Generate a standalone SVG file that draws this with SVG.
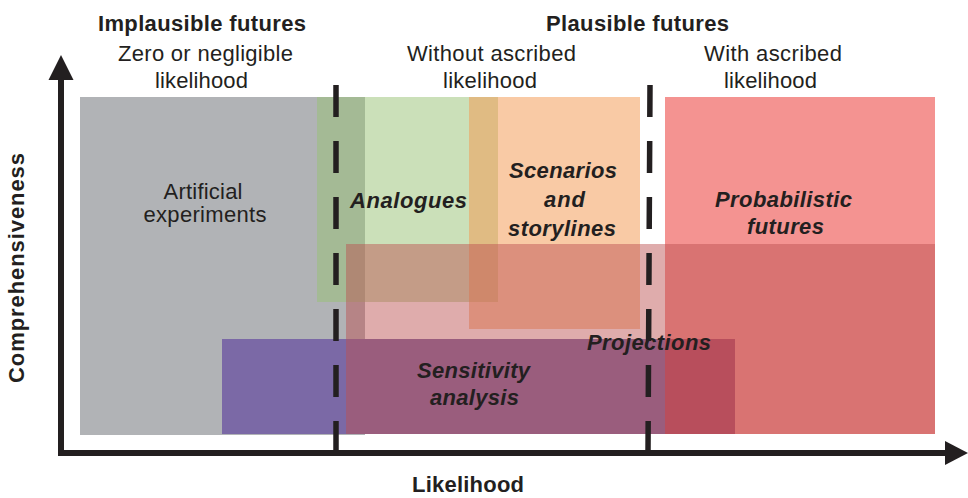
<svg xmlns="http://www.w3.org/2000/svg" width="968" height="498" viewBox="0 0 968 498">
<style>
text{font-family:"Liberation Sans",Arial,sans-serif;font-size:22px;fill:#231f20;text-anchor:middle}
.b{font-weight:bold}
.bi{font-weight:bold;font-style:italic}
.axis{stroke:#231f20;stroke-width:6;fill:none}
.div{stroke:#231f20;stroke-width:5.5;fill:none;stroke-dasharray:32 24}
.head{fill:#231f20}
</style>
<rect width="968" height="498" fill="#ffffff"/>
<g id="artificial-experiments"><rect x="80" y="97" width="285" height="338" fill="#b1b3b6"/></g>
<g id="sensitivity-analysis"><rect x="222" y="339" width="513" height="95" fill="#7b69a6"/></g>
<g id="analogues"><rect x="317" y="97" width="181" height="205" fill="#97c173" fill-opacity="0.5"/></g>
<g id="scenarios"><rect x="469" y="97" width="171" height="232" fill="#f39952" fill-opacity="0.52"/></g>
<g id="probabilistic-futures"><rect x="665" y="97" width="270" height="337" fill="#ea2f2d" fill-opacity="0.52"/></g>
<g id="projections"><rect x="346" y="244" width="589" height="190" fill="#bc5252" fill-opacity="0.48"/></g>
<g id="connectors">
<line class="div" x1="336" y1="85" x2="336" y2="453"/>
<line class="div" x1="650" y1="85" x2="648" y2="453"/>
<line class="axis" x1="61" y1="78" x2="61" y2="456"/>
<line class="axis" x1="58" y1="453" x2="947" y2="453"/>
<polygon class="head" points="61,55 48.5,80 73.5,80"/>
<polygon class="head" points="968,453 945,441 945,465"/>
</g>
<g id="headers">
<text class="b" x="202" y="31" textLength="208">Implausible futures</text>
<text x="205.5" y="61" textLength="175">Zero or negligible</text>
<text x="201.5" y="88" textLength="93">likelihood</text>
<text class="b" x="637.5" y="31" textLength="183">Plausible futures</text>
<text x="491.5" y="61" textLength="169">Without ascribed</text>
<text x="490" y="88" textLength="94">likelihood</text>
<text x="773" y="61" textLength="138">With ascribed</text>
<text x="770.5" y="88" textLength="93">likelihood</text>
<text class="b" x="0" y="0" transform="translate(24,268) rotate(-90)" textLength="230">Comprehensiveness</text>
<text class="b" x="468" y="492" textLength="112">Likelihood</text>
</g>
<g id="labels">
<g id="artificial-experiments-label"><text x="203" y="199" textLength="79">Artificial</text><text x="205" y="222" textLength="123">experiments</text></g>
<g id="analogues-label"><text class="bi" x="408.5" y="208" textLength="117">Analogues</text></g>
<g id="scenarios-label"><text class="bi" x="563" y="178" textLength="108">Scenarios</text><text class="bi" x="564.5" y="207" textLength="41">and</text><text class="bi" x="562" y="236" textLength="108">storylines</text></g>
<g id="probabilistic-futures-label"><text class="bi" x="783.5" y="207" textLength="137">Probabilistic</text><text class="bi" x="785.5" y="234" textLength="77">futures</text></g>
<g id="projections-label"><text class="bi" x="649" y="350" textLength="124">Projections</text></g>
<g id="sensitivity-analysis-label"><text class="bi" x="473.5" y="378" textLength="113">Sensitivity</text><text class="bi" x="474.5" y="405" textLength="89">analysis</text></g>
</g>
</svg>
